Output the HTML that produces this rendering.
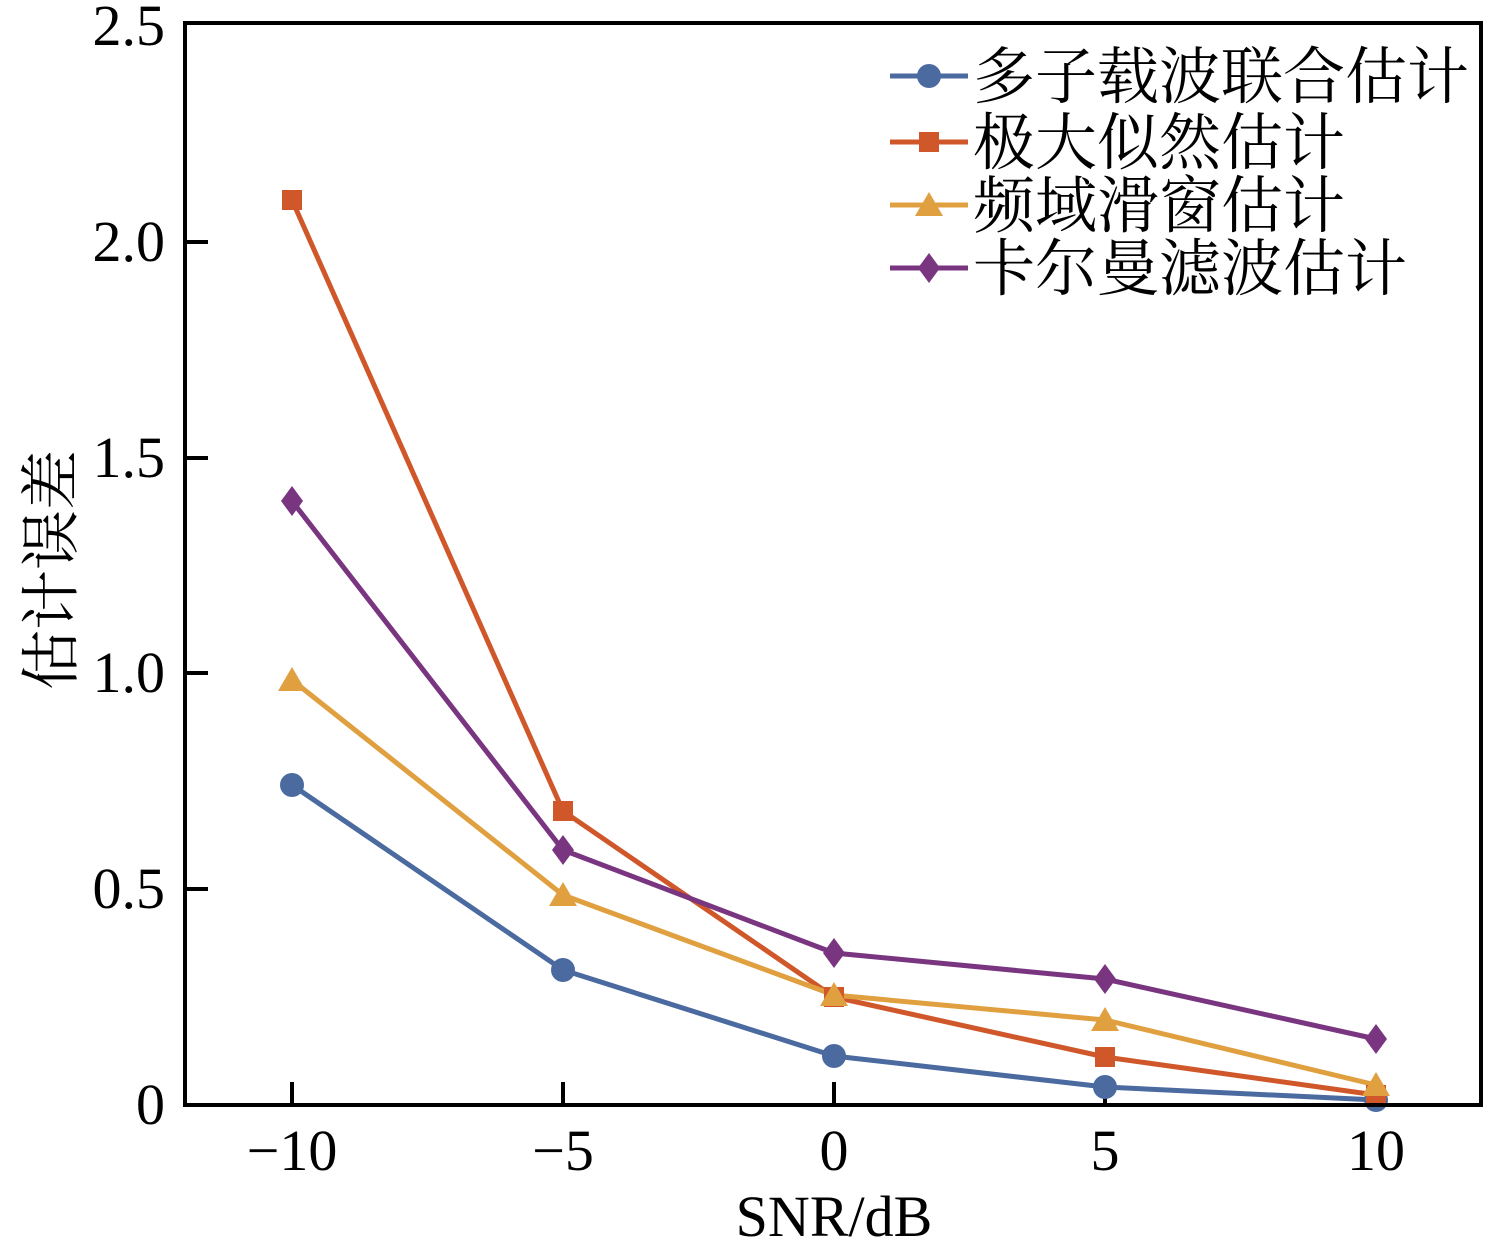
<!DOCTYPE html>
<html><head><meta charset="utf-8"><style>body{margin:0;background:#fff}</style></head><body>
<svg width="1501" height="1251" xmlns="http://www.w3.org/2000/svg" font-family="'Liberation Serif','Noto Serif CJK SC',serif">
<rect width="1501" height="1251" fill="#fff"/>
<g stroke="#000" stroke-width="4">
<line x1="292" y1="1105" x2="292" y2="1082"/><line x1="563" y1="1105" x2="563" y2="1082"/><line x1="834" y1="1105" x2="834" y2="1082"/><line x1="1105" y1="1105" x2="1105" y2="1082"/><line x1="1376" y1="1105" x2="1376" y2="1082"/>
<line x1="185" y1="889" x2="208" y2="889"/><line x1="185" y1="673" x2="208" y2="673"/><line x1="185" y1="458" x2="208" y2="458"/><line x1="185" y1="242" x2="208" y2="242"/>
</g>
<g font-size="58" text-anchor="middle">
<text x="292" y="1170">−10</text><text x="563" y="1170">−5</text><text x="834" y="1170">0</text><text x="1105" y="1170">5</text><text x="1376" y="1170">10</text>
</g>
<g font-size="58" text-anchor="end">
<text x="165" y="1124">0</text><text x="165" y="908">0.5</text><text x="165" y="692">1.0</text><text x="165" y="477">1.5</text><text x="165" y="261">2.0</text><text x="165" y="45">2.5</text>
</g>
<text x="834" y="1236" font-size="58" text-anchor="middle">SNR/dB</text>
<text transform="translate(72,570) rotate(-90)" font-size="60" text-anchor="middle">估计误差</text>
<polyline fill="none" stroke="#4a6aa0" stroke-width="5" points="292,785 563,970 834,1056 1105,1087 1376,1100"/>
<polyline fill="none" stroke="#d0572a" stroke-width="5" points="292,200 563,811 834,997 1105,1057 1376,1095"/>
<polyline fill="none" stroke="#e0a040" stroke-width="5" points="292,680 563,895 834,995 1105,1020 1376,1085"/>
<polyline fill="none" stroke="#7a3580" stroke-width="5" points="292,501 563,850 834,953 1105,979 1376,1039"/>
<g fill="#4a6aa0"><circle cx="292" cy="785" r="12"/><circle cx="563" cy="970" r="12"/><circle cx="834" cy="1056" r="12"/><circle cx="1105" cy="1087" r="12"/><circle cx="1376" cy="1100" r="12"/></g>
<g fill="#d0572a"><rect x="282" y="190" width="20" height="20"/><rect x="553" y="801" width="20" height="20"/><rect x="824" y="987" width="20" height="20"/><rect x="1095" y="1047" width="20" height="20"/><rect x="1366" y="1085" width="20" height="20"/></g>
<g fill="#e0a040"><polygon points="292,667 278,691 306,691"/><polygon points="563,882 549,906 577,906"/><polygon points="834,982 820,1006 848,1006"/><polygon points="1105,1007 1091,1031 1119,1031"/><polygon points="1376,1072 1362,1096 1390,1096"/></g>
<g fill="#7a3580"><polygon points="292,486 303,501 292,516 281,501"/><polygon points="563,835 574,850 563,865 552,850"/><polygon points="834,938 845,953 834,968 823,953"/><polygon points="1105,964 1116,979 1105,994 1094,979"/><polygon points="1376,1024 1387,1039 1376,1054 1365,1039"/></g>
<rect x="185" y="23" width="1296" height="1082" fill="none" stroke="#000" stroke-width="4"/>
<line x1="890" y1="76" x2="968" y2="76" stroke="#4a6aa0" stroke-width="5"/><circle cx="929" cy="76" r="12" fill="#4a6aa0"/>
<line x1="890" y1="142" x2="968" y2="142" stroke="#d0572a" stroke-width="5"/><rect x="919" y="132" width="20" height="20" fill="#d0572a"/>
<line x1="890" y1="205" x2="968" y2="205" stroke="#e0a040" stroke-width="5"/><polygon points="929,192 915,216 943,216" fill="#e0a040"/>
<line x1="890" y1="268" x2="968" y2="268" stroke="#7a3580" stroke-width="5"/><polygon points="929,253 940,268 929,283 918,268" fill="#7a3580"/>
<g font-size="62">
<text x="973" y="98">多子载波联合估计</text>
<text x="973" y="164">极大似然估计</text>
<text x="973" y="227">频域滑窗估计</text>
<text x="973" y="290">卡尔曼滤波估计</text>
</g>
</svg>
</body></html>
